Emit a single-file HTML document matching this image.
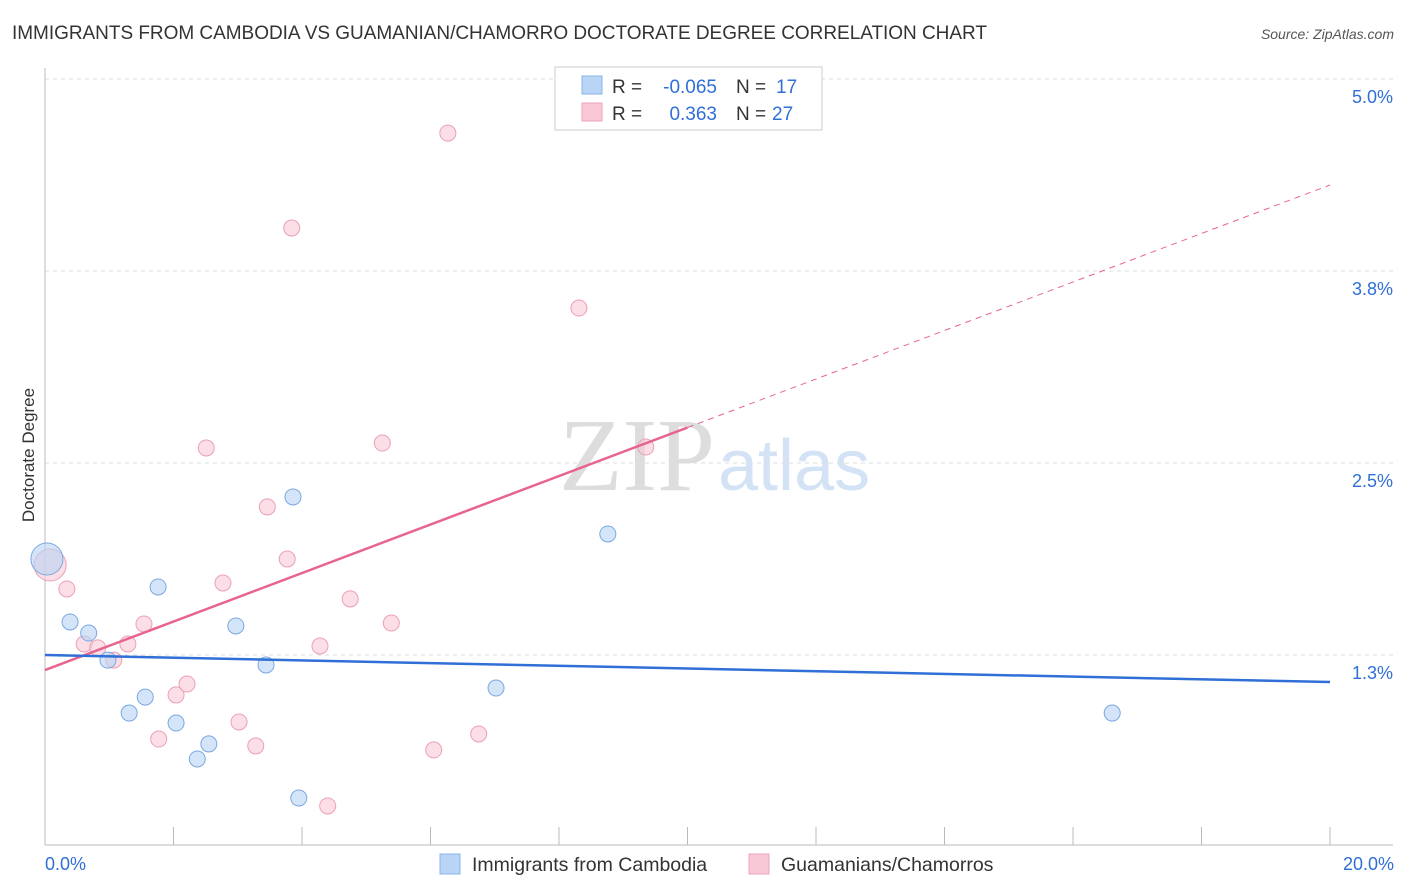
<!DOCTYPE html>
<html><head><meta charset="utf-8"><style>
body{margin:0;background:#fff;font-family:"Liberation Sans",sans-serif}
svg{display:block}
</style></head><body>
<svg width="1406" height="892" id="c">
<text x="12" y="39" font-size="19" fill="#333" textLength="975">IMMIGRANTS FROM CAMBODIA VS GUAMANIAN/CHAMORRO DOCTORATE DEGREE CORRELATION CHART</text>
<text x="1394" y="39" font-size="14" fill="#555" font-style="italic" text-anchor="end">Source: ZipAtlas.com</text>
<text x="715" y="490" font-size="104" fill="#ddd" text-anchor="end" font-family="Liberation Serif">ZIP</text>
<text x="718" y="490" font-size="72" fill="#d3e3f5">atlas</text>
<text transform="translate(34,455) rotate(-90)" font-size="17" fill="#333" text-anchor="middle">Doctorate Degree</text>
<g id="grid"></g><g id="marks"></g>
<g>
<rect x="555" y="67" width="267" height="63" fill="#fff" stroke="#ccc"/>
<rect x="582" y="76" width="20" height="18" fill="#b9d4f5" stroke="#8ab4e8"/>
<rect x="582" y="103" width="20" height="18" fill="#f9c8d6" stroke="#efa2b9"/>
<text x="612" y="93" font-size="19" fill="#333">R =</text>
<text x="717" y="93" font-size="19" fill="#2f6fd6" text-anchor="end">-0.065</text>
<text x="736" y="93" font-size="19" fill="#333">N =</text>
<text x="776" y="93" font-size="19" fill="#2f6fd6">17</text>
<text x="612" y="120" font-size="19" fill="#333">R =</text>
<text x="717" y="120" font-size="19" fill="#2f6fd6" text-anchor="end">0.363</text>
<text x="736" y="120" font-size="19" fill="#333">N =</text>
<text x="772" y="120" font-size="19" fill="#2f6fd6">27</text>
</g>
<g>
<rect x="440" y="854" width="20" height="20" fill="#b9d4f5" stroke="#8ab4e8"/>
<text x="472" y="871" font-size="19.5" fill="#333">Immigrants from Cambodia</text>
<rect x="749" y="854" width="20" height="20" fill="#f9c8d6" stroke="#efa2b9"/>
<text x="781" y="871" font-size="19.5" fill="#333">Guamanians/Chamorros</text>
</g>
</svg>
<script>
const yTicks=[1.25,2.5,3.75,5.0];
const yTickLabels=["1.3%","2.5%","3.8%","5.0%"];
const xTickLabels=["0.0%","20.0%"];
const blueX=[0.03,0.39,0.68,0.98,1.31,1.56,1.76,2.04,2.37,2.55,2.97,3.44,3.86,3.95,7.02,8.76,16.61];
const blueY=[1.875,1.465,1.393,1.217,0.872,0.976,1.693,0.807,0.573,0.671,1.439,1.185,2.279,0.319,1.035,2.038,0.872];
const blueR=[16,8,8,8,8,8,8,8,8,8,8,8,8,8,8,8,8];
const pinkX=[0.08,0.34,0.61,0.82,1.07,1.29,1.54,1.77,2.04,2.21,2.51,2.77,3.02,3.28,3.46,3.77,3.84,4.28,4.40,4.75,5.25,5.39,6.05,6.27,6.75,8.31,9.35];
const pinkY=[1.836,1.68,1.322,1.296,1.217,1.322,1.452,0.703,0.99,1.061,2.598,1.719,0.814,0.658,2.214,1.875,4.03,1.309,0.267,1.615,2.63,1.458,0.632,4.648,0.736,3.509,2.604];
const pinkR=[16,8,8,8,8,8,8,8,8,8,8,8,8,8,8,8,8,8,8,8,8,8,8,8,8,8,8];
const blueTrend=[1.25,1.074];
const pinkTrend=[1.152,4.31];
const pinkSolidEnd=10;
const X=v=>45+v/20*1285, Y=v=>655-(v-1.25)*153.6;
const NS="http://www.w3.org/2000/svg";
const grid=document.getElementById('grid'), marks=document.getElementById('marks');
function mk(p,tag,a){const e=document.createElementNS(NS,tag);for(const k in a)e.setAttribute(k,a[k]);p.appendChild(e);return e;}
yTicks.forEach((t,i)=>{
 const l=mk(grid,'line',{x1:45,x2:1393,y1:Y(t),y2:Y(t),stroke:'#ddd','stroke-dasharray':'4,4'});
 
 
 const tx=mk(grid,'text',{x:1393,y:Y(t)+24,'font-size':18,fill:'#2f6fd6','text-anchor':'end'});
 tx.textContent=yTickLabels[i];
 
 
});
const ax=mk(grid,'line',{x1:45,x2:1393,y1:845,y2:845,stroke:'#bbb'});


const ay=mk(grid,'line',{x1:45,x2:45,y1:68,y2:845,stroke:'#bbb'});


for(let i=0;i<=10;i++){const t=mk(grid,'line',{x1:X(i*2),x2:X(i*2),y1:827,y2:845,stroke:'#bbb'});
 
 }
[[0,'start'],[20,'end']].forEach((d,i)=>{const t=mk(grid,'text',{x:d[0]?1394:45,y:870,'font-size':18,fill:'#2f6fd6','text-anchor':d[1]});
 t.textContent=xTickLabels[i];
 
 });
function dots(xs,ys,rs,fill,stroke,name){xs.forEach((x,i)=>{const c=mk(marks,'circle',{cx:X(x),cy:Y(ys[i]),r:rs[i],fill:fill,stroke:stroke,'fill-opacity':0.6});
 
 });}
dots(pinkX,pinkY,pinkR,'#f9c8d6','#eba0b6','guamanian-point');
dots(blueX,blueY,blueR,'#b9d4f5','#7aa8e0','cambodia-point');
const pAt=v=>pinkTrend[0]+(pinkTrend[1]-pinkTrend[0])*v/20;
const pl=mk(marks,'line',{x1:X(0),y1:Y(pAt(0)),x2:X(pinkSolidEnd),y2:Y(pAt(pinkSolidEnd)),stroke:'#e8648f','stroke-width':2.5});


const pd=mk(marks,'line',{x1:X(pinkSolidEnd),y1:Y(pAt(pinkSolidEnd)),x2:X(20),y2:Y(pAt(20)),stroke:'#e8648f','stroke-width':1,'stroke-dasharray':'6,5'});


const bl=mk(marks,'line',{x1:X(0),y1:Y(blueTrend[0]),x2:X(20),y2:Y(blueTrend[1]),stroke:'#2f6fd6','stroke-width':2.5});


</script>
</body></html>
